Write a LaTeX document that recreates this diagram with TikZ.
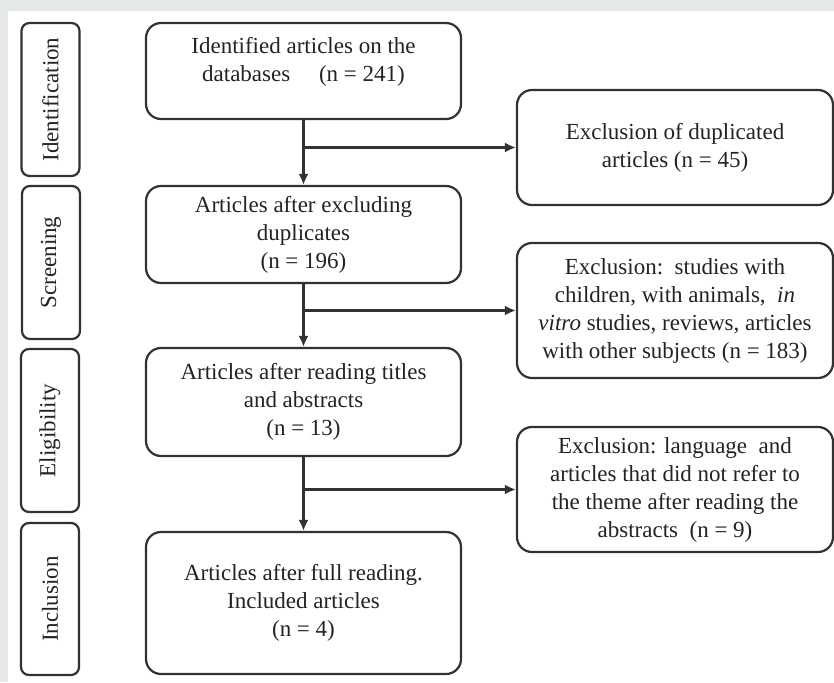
\documentclass[tikz,border=0pt]{standalone}
\usepackage{fontspec}
\setmainfont{Liberation Serif}
\usetikzlibrary{arrows.meta}
\definecolor{pg_back}{RGB}{229, 232, 233}
\definecolor{pg_line}{RGB}{50, 50, 50}
\definecolor{pg_text}{RGB}{35, 35, 35}
\tikzstyle{mb}=[rectangle,rounded corners=15pt,draw=pg_line,text=pg_text,
  line width=2.2pt,align=center,inner sep=3pt,minimum width=315pt]
\tikzstyle{xb}=[rectangle,rounded corners=15pt,draw=pg_line,text=pg_text,
  line width=2.2pt,align=center,inner sep=3pt,minimum width=316pt]
\tikzstyle{pb}=[rectangle,rounded corners=8pt,draw=pg_line,text=pg_text,
  line width=2.2pt,rotate=90,inner sep=3pt,minimum height=58pt]
\tikzstyle{ar}=[draw=pg_line,line width=2.2pt,-{Latex[length=11pt,width=10pt]}]

\begin{document}
\begin{tikzpicture}[x=1pt,y=-1pt,every node/.style={font=\fontsize{23}{28}\selectfont}]
        \useasboundingbox (0,0) rectangle (834,682);
        \fill[pg_back] (0,0) rectangle (834,682);
        \fill[white] (8,11) rectangle (834,682);
        % phases
        \node[style=pb,minimum width=153pt] (8) at (50.5,99.5) {Identification};
        \node[style=pb,minimum width=153pt] (9) at (51,262.5) {Screening};
        \node[style=pb,minimum width=163pt] (10) at (50,430.5) {Eligibility};
        \node[style=pb,minimum width=152pt] (11) at (50,599) {Inclusion};
        % main column
        \node[style=mb,minimum height=96pt,text depth=24pt] (1) at (303.5,71) {Identified articles on the\\ databases \quad(n = 241)};
        \node[style=mb,minimum height=97pt] (2) at (303.5,234.5) {Articles after excluding\\ duplicates\\ (n = 196)};
        \node[style=mb,minimum height=108pt] (3) at (303.5,402) {Articles after reading titles\\ and abstracts\\ (n = 13)};
        \node[style=mb,minimum height=142pt] (4) at (303.5,603) {Articles after full reading.\\ Included articles\\ (n = 4)};
        % exclusions
        \node[style=xb,minimum height=115pt] (5) at (675,147.5) {Exclusion of duplicated\\ articles (n = 45)};
        \node[style=xb,minimum height=135pt] (6) at (675,310.5) {Exclusion:\ \ studies with\\ children, with animals,\ \ \textit{in}\\ \textit{vitro} studies, reviews, articles\\ with other subjects (n = 183)};
        \node[style=xb,minimum height=125pt] (7) at (675,489.5) {Exclusion: language\ \ and\\ articles that did not refer to\\ the theme after reading the\\ abstracts\ \ (n = 9)};
        \draw[style=ar] (1) to (2);
        \draw[style=ar] (2) to (3);
        \draw[style=ar] (3) to (4);
        \draw[style=ar] (5 -| 1) to (5);
        \draw[style=ar] (6 -| 1) to (6);
        \draw[style=ar] (7 -| 1) to (7);
    \end{tikzpicture}
\end{document}
